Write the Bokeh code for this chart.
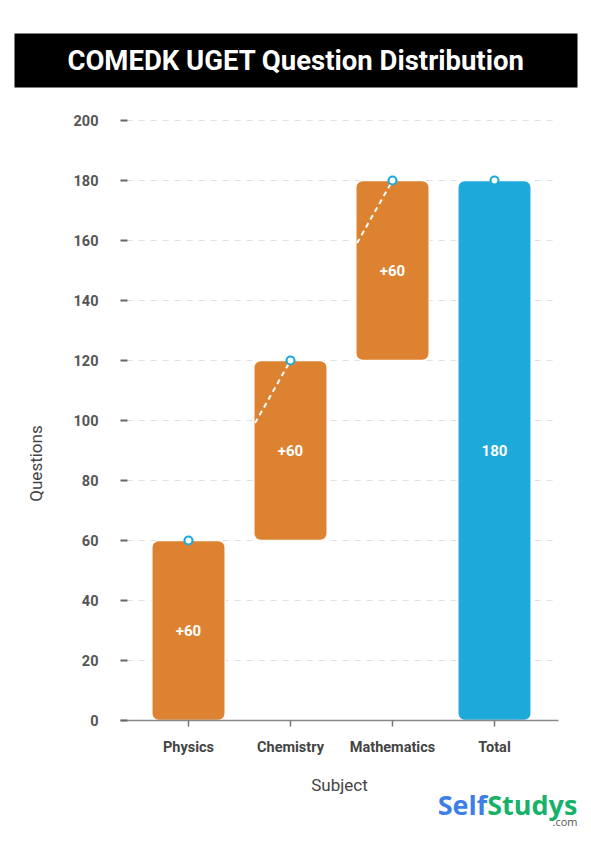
import math
from bokeh.plotting import figure
from bokeh.models import ColumnDataSource, FixedTicker, LinearAxis
from bokeh.core.properties import value
from bokeh.embed import file_html
from bokeh.resources import INLINE

# ---- data ----
categories = ["Physics", "Chemistry", "Mathematics", "Total"]
increments = [60, 60, 60]
total_value = 180
y_ticks = [0, 20, 40, 60, 80, 100, 120, 140, 160, 180, 200]
title_text = "COMEDK UGET Question Distribution"
x_title = "Subject"
y_title = "Questions"

ORANGE = "#DD8231"
BLUE = "#1EA9DB"
FONT = "Roboto"

# waterfall geometry from data
bottoms, tops = [], []
run = 0
for inc in increments:
    bottoms.append(run)
    run += inc
    tops.append(run)
bottoms.append(0)
tops.append(total_value)
xs = list(range(len(categories)))
labels = ["+%d" % v for v in increments] + ["%d" % total_value]
colors = [ORANGE] * len(increments) + [BLUE]
mids = [(b + t) / 2 for b, t in zip(bottoms, tops)]

src = ColumnDataSource(dict(x=xs, bottom=bottoms, top=tops, color=colors,
                            label=labels, mid=mids))

# ---- layout constants (pixel geometry of the canvas) ----
W, H = 583, 836
PX_X = 102.0   # pixels per category
PX_Y = 3.0     # pixels per question
X0_PAGE, Y0_PAGE = 188.0, 720.0   # canvas position of (x=0, y=0)


def dx(px):
    return (px - X0_PAGE) / PX_X


def dy(py):
    return (Y0_PAGE - py) / PX_Y


plot_left, plot_right = dx(120), dx(558)
y_min, y_max = y_ticks[0], y_ticks[-1]

p = figure(width=W, height=H, x_range=(dx(0), dx(W)),
           y_range=(dy(H), dy(0)), toolbar_location=None,
           output_backend="svg", min_border=0,
           x_axis_type=None, y_axis_type=None)
p.outline_line_color = None
p.background_fill_color = "white"
p.border_fill_color = "white"
p.grid.visible = False

# ---- title strip ----
p.quad(left=[dx(14)], right=[dx(577)], bottom=[dy(87)], top=[dy(33)],
       fill_color="black", line_color=None)
p.text(x=[(dx(14) + dx(577)) / 2], y=[dy(60)], text=[title_text],
       text_color="white", text_font=value(FONT), text_font_style="bold",
       text_font_size="27.5px", text_align="center", text_baseline="middle")

# ---- grid lines ----
p.segment(x0=[plot_left + 0.06] * len(y_ticks), x1=[plot_right] * len(y_ticks),
          y0=y_ticks, y1=y_ticks, line_color="#E0E0E0", line_width=1.2,
          line_dash="6 6")

# ---- axes ----
yax = LinearAxis(fixed_location=plot_left, ticker=FixedTicker(ticks=y_ticks),
                 bounds=(y_min, y_max))
yax.axis_line_color = None
yax.major_tick_in = 7
yax.major_tick_out = 0
yax.major_tick_line_color = "#666666"
yax.major_tick_line_width = 2
yax.minor_tick_line_color = None
yax.major_label_standoff = 22
yax.major_label_text_font = FONT
yax.major_label_text_font_style = "bold"
yax.major_label_text_font_size = "14.5px"
yax.major_label_text_color = "#555555"
p.add_layout(yax, "left")

xax = LinearAxis(fixed_location=0, ticker=FixedTicker(ticks=xs),
                 bounds=(plot_left, plot_right))
xax.major_label_overrides = {i: c for i, c in zip(xs, categories)}
xax.axis_line_color = "#888888"
xax.axis_line_width = 1.5
xax.major_tick_in = 0
xax.major_tick_out = 6
xax.major_tick_line_color = "#777777"
xax.major_tick_line_width = 1.5
xax.minor_tick_line_color = None
xax.major_label_standoff = 12
xax.major_label_text_font = FONT
xax.major_label_text_font_style = "bold"
xax.major_label_text_font_size = "14.5px"
xax.major_label_text_color = "#444444"
xax.axis_label = x_title
xax.axis_label_standoff = 16
xax.axis_label_text_font = FONT
xax.axis_label_text_font_style = "normal"
xax.axis_label_text_font_size = "17px"
xax.axis_label_text_color = "#444444"
p.add_layout(xax, "below")

# y axis title
p.text(x=[dx(35)], y=[dy(463)], text=[y_title], angle=math.pi / 2,
       text_font=value(FONT), text_font_size="17px", text_color="#444444",
       text_align="center", text_baseline="middle")

# ---- bars ----
p.vbar(x="x", bottom="bottom", top="top", width=0.72, source=src,
       fill_color="color", line_color="white", line_width=1.5,
       border_radius=7)

# connector lines between successive tops
for i in range(1, len(increments)):
    p.line(x=[xs[i - 1], xs[i]], y=[tops[i - 1], tops[i]], line_color="white",
           line_width=2, line_dash="5 4")

# top markers
p.scatter(x="x", y="top", source=src, size=8, fill_color="white",
          line_color=BLUE, line_width=2.2)

# value labels
p.text(x="x", y="mid", text="label", source=src, text_color="white",
       text_font=value(FONT), text_font_style="bold", text_font_size="15px",
       text_align="center", text_baseline="middle")

# ---- logo ----
p.text(x=[dx(486.7)], y=[dy(804)], text=["Self"], text_font=value("Open Sans"),
       text_font_style="bold", text_font_size="27px", text_color="#3D7FE6",
       text_align="right", text_baseline="alphabetic")
p.text(x=[dx(486.7)], y=[dy(804)], text=["Studys"], text_font=value("Open Sans"),
       text_font_style="bold", text_font_size="27px", text_color="#17B26A",
       text_align="left", text_baseline="alphabetic")
p.text(x=[dx(577)], y=[dy(821)], text=[".com"], text_font=value("Open Sans"),
       text_font_size="11px", text_color="#555555",
       text_align="right", text_baseline="alphabetic")

open("out.html", "w").write(file_html(p, INLINE))
